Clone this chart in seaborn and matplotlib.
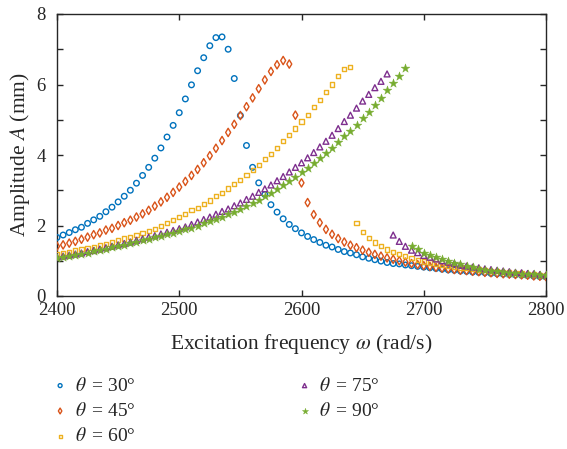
import numpy as np
import pandas as pd
import matplotlib
matplotlib.use("Agg")
import matplotlib.pyplot as plt
import seaborn as sns

# ---------------- data ----------------
omega = list(range(2400, 2801, 5))

amp_30 = [1.66, 1.73, 1.80, 1.88, 1.95, 2.06, 2.16, 2.26, 2.39, 2.52,
          2.67, 2.83, 3.00, 3.20, 3.42, 3.65, 3.91, 4.20, 4.51, 4.84,
          5.20, 5.59, 5.99, 6.39, 6.76, 7.10, 7.33, 7.35, 7.00, 6.17,
          5.12, 4.27, 3.65, 3.21, 2.88, 2.59, 2.38, 2.19, 2.03, 1.91,
          1.79, 1.69, 1.60, 1.52, 1.44, 1.39, 1.32, 1.26, 1.22, 1.17,
          1.11, 1.07, 1.03, 0.99, 0.95, 0.92, 0.91, 0.88, 0.86, 0.84,
          0.82, 0.80, 0.78, 0.76, 0.74, 0.73, 0.71, 0.70, 0.68, 0.67,
          0.66, 0.64, 0.63, 0.62, 0.61, 0.60, 0.59, 0.58, 0.56, 0.55,
          0.54]

amp_45 = [1.41, 1.45, 1.50, 1.55, 1.61, 1.67, 1.74, 1.79, 1.87, 1.92,
          2.00, 2.08, 2.15, 2.24, 2.33, 2.43, 2.55, 2.67, 2.80, 2.94,
          3.09, 3.25, 3.42, 3.59, 3.78, 3.98, 4.19, 4.41, 4.64, 4.87,
          5.12, 5.37, 5.62, 5.88, 6.13, 6.37, 6.56, 6.68, 6.58, 5.13,
          3.21, 2.65, 2.31, 2.08, 1.89, 1.75, 1.63, 1.53, 1.44, 1.37,
          1.30, 1.24, 1.18, 1.13, 1.08, 1.04, 1.00, 0.96, 0.92, 0.89,
          0.86, 0.84, 0.81, 0.79, 0.77, 0.75, 0.73, 0.72, 0.70, 0.69,
          0.67, 0.66, 0.64, 0.63, 0.62, 0.61, 0.60, 0.59, 0.57, 0.56,
          0.55]

amp_60 = [1.20, 1.23, 1.26, 1.29, 1.33, 1.36, 1.40, 1.44, 1.48, 1.53,
          1.58, 1.63, 1.68, 1.73, 1.79, 1.85, 1.91, 1.98, 2.06, 2.15,
          2.24, 2.32, 2.43, 2.50, 2.60, 2.71, 2.83, 2.92, 3.05, 3.17,
          3.30, 3.44, 3.58, 3.72, 3.88, 4.04, 4.21, 4.39, 4.56, 4.75,
          4.95, 5.13, 5.35, 5.56, 5.78, 6.00, 6.23, 6.44, 6.49, 2.08,
          1.82, 1.65, 1.52, 1.41, 1.32, 1.25, 1.19, 1.13, 1.08, 1.03,
          0.98, 0.95, 0.92, 0.89, 0.86, 0.83, 0.81, 0.79, 0.77, 0.75,
          0.73, 0.71, 0.70, 0.68, 0.67, 0.65, 0.64, 0.63, 0.61, 0.60,
          0.58]

amp_75 = [1.10, 1.13, 1.16, 1.19, 1.22, 1.26, 1.29, 1.33, 1.37, 1.41,
          1.45, 1.49, 1.53, 1.58, 1.62, 1.67, 1.71, 1.76, 1.81, 1.86,
          1.91, 1.96, 2.03, 2.10, 2.17, 2.24, 2.32, 2.40, 2.47, 2.56,
          2.64, 2.74, 2.83, 2.94, 3.04, 3.15, 3.27, 3.39, 3.52, 3.65,
          3.78, 3.92, 4.07, 4.23, 4.39, 4.56, 4.75, 4.95, 5.13, 5.33,
          5.53, 5.72, 5.91, 6.09, 6.30, 1.73, 1.55, 1.41, 1.30, 1.23,
          1.15, 1.10, 1.05, 1.00, 0.96, 0.92, 0.88, 0.85, 0.82, 0.80,
          0.77, 0.75, 0.73, 0.71, 0.69, 0.67, 0.66, 0.64, 0.63, 0.61,
          0.59]

amp_90 = [1.08, 1.11, 1.14, 1.17, 1.20, 1.23, 1.27, 1.30, 1.34, 1.38,
          1.42, 1.46, 1.50, 1.54, 1.58, 1.62, 1.66, 1.70, 1.75, 1.79,
          1.84, 1.89, 1.94, 2.00, 2.06, 2.12, 2.18, 2.25, 2.32, 2.39,
          2.47, 2.55, 2.64, 2.73, 2.83, 2.93, 3.04, 3.15, 3.27, 3.39,
          3.51, 3.64, 3.77, 3.92, 4.06, 4.21, 4.37, 4.53, 4.69, 4.86,
          5.04, 5.23, 5.43, 5.62, 5.83, 6.04, 6.24, 6.46, 1.43, 1.32,
          1.23, 1.16, 1.10, 1.05, 0.99, 0.94, 0.90, 0.85, 0.81, 0.77,
          0.75, 0.72, 0.70, 0.68, 0.66, 0.64, 0.63, 0.62, 0.61, 0.60,
          0.59]

labels = [r"$\theta\,$ = 30°", r"$\theta\,$ = 45°", r"$\theta\,$ = 60°",
          r"$\theta\,$ = 75°", r"$\theta\,$ = 90°"]
series = [amp_30, amp_45, amp_60, amp_75, amp_90]

x_ticks = [2400, 2500, 2600, 2700, 2800]
y_ticks = [0, 1, 2, 3, 4, 5, 6, 7, 8]
y_ticklabels = ["0", "", "2", "", "4", "", "6", "", "8"]

# ---------------- style ----------------
colors = ["#0072BD", "#D95319", "#EDB120", "#7E2F8E", "#77AC30"]
markers = ["o", "d", "s", "^", "*"]
sizes = [16, 18, 9, 18, 44]
filled = [False, False, False, False, True]

sns.set_theme(style="ticks")
plt.rcParams["font.family"] = ["Liberation Serif", "DejaVu Serif"]
plt.rcParams["mathtext.fontset"] = "stix"

fig = plt.figure(figsize=(5.67, 4.49), dpi=100)
ax = fig.add_axes([57 / 567, 1 - 296 / 449, (546 - 57) / 567, (296 - 14) / 449])

handles = []
for amp, lab, c, m, s, f in zip(series, labels, colors, markers, sizes, filled):
    df = pd.DataFrame({"omega": omega, "amp": amp})
    if f:
        sns.scatterplot(data=df, x="omega", y="amp", ax=ax, marker=m, s=s,
                        color=c, edgecolor=c, linewidth=0.3, zorder=3)
    else:
        sns.scatterplot(data=df, x="omega", y="amp", ax=ax, marker=m, s=s,
                        color=c, facecolors="none", edgecolors=c,
                        linewidth=1.0, zorder=3)
    handles.append(ax.collections[-1])

ax.set_xlim(2400, 2800)
ax.set_ylim(0, 8)
ax.set_xticks(x_ticks)
ax.set_yticks(y_ticks)
ax.set_yticklabels(y_ticklabels)
ax.tick_params(direction="in", top=True, right=True, length=4, width=1,
               labelsize=13.5, colors="#262626")
ax.tick_params(axis="x", pad=4)
ax.tick_params(axis="y", pad=8)
for sp in ax.spines.values():
    sp.set_visible(True)
    sp.set_linewidth(1.0)
    sp.set_color("#262626")

ax.set_xlabel(r"Excitation frequency $\omega$ (rad/s)", fontsize=15.5,
              color="#262626", labelpad=10)
ax.set_ylabel(r"Amplitude $A$ (mm)", fontsize=15.5, color="#262626",
              labelpad=3)

leg = fig.legend(handles, labels, loc="upper left", ncol=2,
                 bbox_to_anchor=(0.058, 0.2), frameon=False,
                 fontsize=14, handletextpad=0.25, columnspacing=8.2,
                 labelspacing=0.38, markerscale=0.7, handlelength=1.0)
for t in leg.get_texts():
    t.set_color("#262626")

fig.savefig("out.png", dpi=100)
